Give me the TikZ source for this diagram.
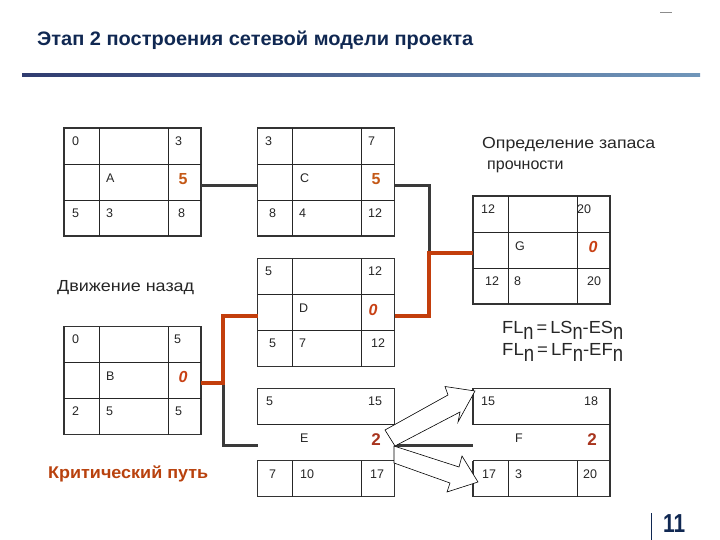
\documentclass[tikz,border=0pt]{standalone}
\usepackage{fontspec}
\setmainfont{Liberation Sans}
\usetikzlibrary{calc}
\definecolor{navy}{RGB}{16,40,82}
\definecolor{critc}{RGB}{195,62,12}
\definecolor{connc}{RGB}{58,58,58}
\definecolor{orn}{RGB}{196,88,22}
\definecolor{zr}{RGB}{200,64,20}
\definecolor{twoc}{RGB}{168,52,30}
\definecolor{critT}{RGB}{185,66,14}
\definecolor{rulel}{RGB}{48,60,112}
\definecolor{ruler}{RGB}{112,150,186}
\newcommand\fitto[2]{\resizebox{#1}{\height}{#2}}
\newcommand\subn{\raisebox{-6.5pt}{\scalebox{1}[1.3]{n}}}
\tikzset{
 taskbox/.style={draw=black!80, line width=1.8pt, minimum width=137pt, minimum height=108pt, inner sep=0pt, outer sep=0pt},
 openbox/.style={minimum width=137pt, minimum height=108pt, inner sep=0pt, outer sep=0pt},
 cellline/.style={line width=0.9pt, draw=black!85},
 boxframe/.style={line width=1.8pt, draw=black!80},
 linkline/.style={line width=3pt, draw=connc},
 critline/.style={line width=4pt, draw=critc},
 cellnum/.style={anchor=west, inner sep=0pt, font=\fontsize{12.5}{14}\selectfont, text=black!85},
 slackfive/.style={inner sep=0pt, font=\bfseries\fontsize{16}{18}\selectfont, text=orn},
 slackzero/.style={inner sep=0pt, font=\bfseries\itshape\fontsize{16}{18}\selectfont, text=zr},
 slacktwo/.style={inner sep=0pt, font=\bfseries\fontsize{17}{19}\selectfont, text=twoc},
 hollowarrow/.style={draw=black, line width=0.6pt, fill=white, line join=miter},
}
\newcommand\fullgrid[1]{%
 \draw[cellline] ([yshift=-36]#1.north west) -- ([yshift=-36]#1.north east);
 \draw[cellline] ([yshift=36]#1.south west) -- ([yshift=36]#1.south east);
 \draw[cellline] ([xshift=35]#1.north west) -- ([xshift=35]#1.south west);
 \draw[cellline] ([xshift=-33]#1.north east) -- ([xshift=-33]#1.south east);
}
\begin{document}
\begin{tikzpicture}[x=1pt,y=-1pt]
\useasboundingbox (0,0) rectangle (720,540);
\fill[white] (0,0) rectangle (720,540);

% header
\node[anchor=base west, inner sep=0pt, font=\bfseries\fontsize{19.5}{22}\selectfont, text=navy] (title) at (37,46) {\fitto{436pt}{Этап 2 построения сетевой модели проекта}};
\shade[left color=rulel, right color=ruler] (22,73.8) rectangle (700,76.4);
\draw[black!45, line width=0.8pt] (660,12) -- (672,12);

% boxes
\node[taskbox] (A) at (132.5,182) {};
\node[taskbox] (C) at (326,182) {};
\node[taskbox] (G) at (541.5,250) {};
\node[taskbox] (D) at (326,312.5) {};
\node[taskbox] (B) at (132.5,380.5) {};
\node[openbox] (E) at (326,442.5) {};
\node[openbox] (F) at (541.5,442.5) {};
\fullgrid{A}\fullgrid{C}\fullgrid{G}\fullgrid{D}\fullgrid{B}

% box E
\draw[boxframe] ([yshift=-36]E.north west) -- (E.north west) -- (E.north east) -- ([yshift=-36]E.north east);
\draw[cellline] ([yshift=-36]E.north west) -- ([yshift=-36]E.north east);
\draw[boxframe] ([yshift=36]E.south west) rectangle (E.south east);
\draw[cellline] ([xshift=35]E.south west) -- ([xshift=35,yshift=36]E.south west);
\draw[cellline] ([xshift=-33]E.south east) -- ([xshift=-33,yshift=36]E.south east);
% box F
\draw[boxframe] ([yshift=-36]F.north west) -- (F.north west) -- (F.north east) -- (F.south east) -- (F.south west) -- ([yshift=36]F.south west);
\draw[cellline] ([yshift=-36]F.north west) -- ([yshift=-36]F.north east);
\draw[boxframe] ([yshift=36]F.south west) -- ([yshift=36]F.south east);
\draw[cellline] ([xshift=35]F.south west) -- ([xshift=35,yshift=36]F.south west);
\draw[cellline] ([xshift=-33]F.south east) -- ([xshift=-33,yshift=36]F.south east);

% connector coordinates
\coordinate (ac) at (0,186);
\coordinate (cg) at (429,253);
\coordinate (dd) at (0,316);
\coordinate (bj) at (223,383);
\coordinate (ee) at (0,445);

% dark connectors
\draw[linkline] (A.east |- ac) -- (C.west |- ac);
\draw[linkline, line join=miter] (C.east |- ac) -| (cg);
\draw[linkline, line join=miter] (bj) |- (E.west |- ee);
\draw[linkline] (E.east |- ee) -- (F.west |- ee);
% critical path
\draw[critline, line join=miter] (B.east |- bj) -- (bj) |- (D.west |- dd);
\draw[critline, line join=miter] (D.east |- dd) -| (cg) -- (G.west |- cg);

% hollow arrows
\draw[hollowarrow] (385,430) -- (448,395) -- (445,386.5) -- (475,391) -- (458,422) -- (460,412) -- (395,446) -- cycle;
\draw[hollowarrow] (394,446) -- (459,467) -- (462,456) -- (478,482) -- (447,492) -- (450,483) -- (394,463) -- cycle;

% cell texts A
\node[cellnum] (a1) at (72,141) {0};
\node[cellnum] (a2) at (175,141) {3};
\node[cellnum] (a3) at (106,178) {A};
\node[cellnum] (a4) at (72,213) {5};
\node[cellnum] (a5) at (106,213) {3};
\node[cellnum] (a6) at (178,213) {8};
\node[slackfive] (a7) at (183,179) {5};
% C
\node[cellnum] (c1) at (265,141) {3};
\node[cellnum] (c2) at (368,141) {7};
\node[cellnum] (c3) at (300,178) {C};
\node[cellnum] (c4) at (269,213) {8};
\node[cellnum] (c5) at (299,213) {4};
\node[cellnum] (c6) at (368,213) {12};
\node[slackfive] (c7) at (376,179) {5};
% G
\node[cellnum] (g1) at (481,209) {12};
\node[cellnum] (g2) at (577,209) {20};
\node[cellnum] (g3) at (515,246) {G};
\node[cellnum] (g4) at (485,281) {12};
\node[cellnum] (g5) at (514,281) {8};
\node[cellnum] (g6) at (587,281) {20};
\node[slackzero] (g7) at (593,247) {0};
% D
\node[cellnum] (d1) at (265,271) {5};
\node[cellnum] (d2) at (368,271) {12};
\node[cellnum] (d3) at (299,308) {D};
\node[cellnum] (d4) at (269,343) {5};
\node[cellnum] (d5) at (299,343) {7};
\node[cellnum] (d6) at (371,343) {12};
\node[slackzero] (d7) at (373,310) {0};
% B
\node[cellnum] (b1) at (72,339) {0};
\node[cellnum] (b2) at (174,339) {5};
\node[cellnum] (b3) at (106,376) {B};
\node[cellnum] (b4) at (72,411) {2};
\node[cellnum] (b5) at (106,411) {5};
\node[cellnum] (b6) at (175,411) {5};
\node[slackzero] (b7) at (183,377) {0};
% E
\node[cellnum] (e1) at (266,401) {5};
\node[cellnum] (e2) at (368,401) {15};
\node[cellnum] (e3) at (300,438) {E};
\node[cellnum] (e4) at (269,474) {7};
\node[cellnum] (e5) at (300,474) {10};
\node[cellnum] (e6) at (370,474) {17};
\node[slacktwo] (e7) at (376,440) {2};
% F
\node[cellnum] (f1) at (481,401) {15};
\node[cellnum] (f2) at (584,401) {18};
\node[cellnum] (f3) at (515,438) {F};
\node[cellnum] (f4) at (482,474) {17};
\node[cellnum] (f5) at (515,474) {3};
\node[cellnum] (f6) at (583,474) {20};
\node[slacktwo] (f7) at (592,440) {2};

% labels
\node[anchor=base west, inner sep=0pt, font=\fontsize{16}{18}\selectfont, text=black!85] (back) at (57,291) {\fitto{137pt}{Движение назад}};
\node[anchor=base west, inner sep=0pt, font=\fontsize{16}{18}\selectfont, text=black!85] (slack1) at (482,149) {\fitto{173pt}{Определение запаса}};
\node[anchor=base west, inner sep=0pt, font=\fontsize{16}{18}\selectfont, text=black!85] (slack2) at (487,170) {прочности};
\node[anchor=base west, inner sep=0pt, font=\bfseries\fontsize{17}{19}\selectfont, text=critT] (crit) at (48,478) {\fitto{160pt}{Критический путь}};
\node[anchor=base west, inner sep=0pt, font=\fontsize{17.5}{20}\selectfont, text=black!85] (fl1) at (502,333) {\fitto{121pt}{FL\subn\,=\,LS\subn-ES\subn}};
\node[anchor=base west, inner sep=0pt, font=\fontsize{17.5}{20}\selectfont, text=black!85] (fl2) at (502,355) {\fitto{121pt}{FL\subn\,=\,LF\subn-EF\subn}};

% page number
\draw[navy, line width=1pt] (651,513) -- (651,540);
\node[anchor=base west, inner sep=0pt, font=\bfseries\fontsize{26}{28}\selectfont, text=navy] (pg) at (663,532) {\fitto{22pt}{11}};
\end{tikzpicture}
\end{document}
